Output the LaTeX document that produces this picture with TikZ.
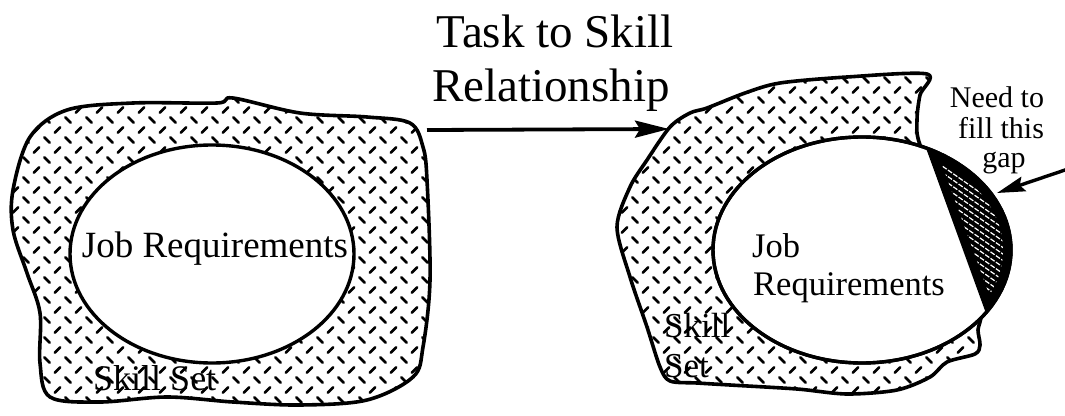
\documentclass[tikz,border=0pt]{standalone}
\usepackage{fontspec}
\setmainfont{Liberation Serif}
\usetikzlibrary{patterns,arrows.meta}
\pgfdeclarepatternformonly{plate}{\pgfpoint{-1pt}{-1pt}}{\pgfpoint{22pt}{21pt}}{\pgfpoint{21pt}{20pt}}{%
  \pgfsetlinewidth{2.8pt}\pgfsetroundcap
  \pgfpathmoveto{\pgfpoint{2.4pt}{17.6pt}}\pgfpathlineto{\pgfpoint{7.6pt}{12.4pt}}%
  \pgfpathmoveto{\pgfpoint{12.9pt}{2.4pt}}\pgfpathlineto{\pgfpoint{18.1pt}{7.6pt}}%
  \pgfusepath{stroke}}
\tikzset{
  blob/.style={pattern=plate, draw=black, line width=3.6pt, line join=round},
  req/.style={fill=white, draw=black, line width=3.4pt},
  lbl/.style={inner sep=0pt, font=\fontsize{#1}{#1}\selectfont},
  bigarrow/.style={line width=3.8pt, -{Stealth[length=34pt,width=17pt,inset=5pt]}},
  smallarrow/.style={line width=3.4pt, -{Stealth[length=28pt,width=15pt,inset=4pt]}},
}
\begin{document}
\begin{tikzpicture}[x=1pt,y=-1pt]
\useasboundingbox (0,0) rectangle (1065,415);
% ---------- left figure ----------
\path[blob] plot[smooth cycle, tension=0.55] coordinates {
 (13,190) (30,137) (67,110) (133,103) (217,103) (233,98) (300,113) (367,117)
 (410,123) (423,147) (427,180) (430,280) (423,347) (413,377) (367,400) (300,405)
 (233,402) (167,397) (100,402) (50,397) (40,363) (40,313) (27,273) (13,230)};
\path[req] (212,254) ellipse [x radius=142, y radius=109];
\node[lbl=37, anchor=base] (jr1) at (215,257) {Job Requirements};
\node[lbl=36, anchor=base west] (ss1) at (93,390) {Skill Set};
% ---------- title ----------
\node[lbl=47, anchor=base] (t1) at (555,47) {Task to Skill};
\node[lbl=47, anchor=base] (t2) at (551,101) {Relationship};
\coordinate (a0) at (427,130);
\coordinate (a1) at (669,129);
\draw[bigarrow] (a0) -- (a1);
% ---------- right figure ----------
\path[blob] plot[smooth cycle, tension=0.5] coordinates {
 (670,127) (690,113) (707,108) (745,93) (780,83) (847,77) (927,74) (920,95)
 (917,120) (920,145) (950,215) (975,290) (981,315) (978,330) (980,345) (975,354)
 (947,362) (930,377) (897,390) (847,394) (797,389) (730,385) (697,383) (670,381)
 (660,367) (647,327) (630,277) (617,227) (630,187) (647,160)};
\path[req] (862,250) ellipse [x radius=149, y radius=113];
% gap lens
\begin{scope}
  \clip (862,250) ellipse [x radius=149, y radius=113];
  \fill[black] (906,93) -- (1004,363) -- (1100,363) -- (1100,93) -- cycle;
\end{scope}
\begin{scope}
  \clip (862,250) ellipse [x radius=141, y radius=105];
  \clip (916,93) -- (1014,363) -- (1100,363) -- (1100,93) -- cycle;
  \foreach \k in {-30,...,30}
    \draw[white, line width=1.2pt, dash pattern=on 5pt off 1.5pt] (900,{130+6.5*\k}) -- (1030,{130+6.5*\k+91});
\end{scope}
\draw[line width=3.4pt] (862,250) ellipse [x radius=149, y radius=113];
\node[lbl=34.5, anchor=base west] (jr2a) at (752,257) {Job};
\node[lbl=34.5, anchor=base west] (jr2b) at (753,295) {Requirements};
\node[lbl=35, anchor=base west] (ss2a) at (664,337) {Skill};
\node[lbl=35, anchor=base west] (ss2b) at (664,377) {Set};
\node[lbl=30, anchor=base] (n1) at (997,107) {Need to};
\node[lbl=30, anchor=base] (n2) at (1001,138) {fill this};
\node[lbl=30, anchor=base] (n3) at (1004,167) {gap};
\coordinate (g0) at (1068,169);
\coordinate (g1) at (997,193);
\draw[smallarrow] (g0) -- (g1);
\end{tikzpicture}
\end{document}
